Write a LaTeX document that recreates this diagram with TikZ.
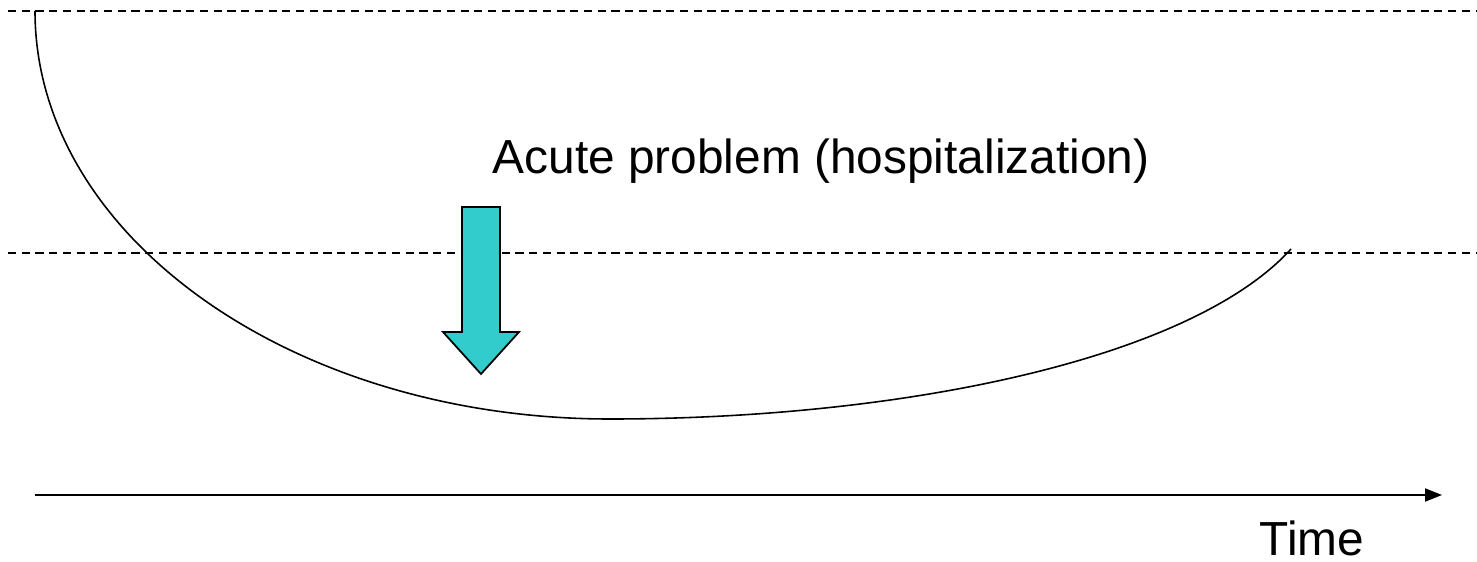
\documentclass[tikz,border=0pt]{standalone}
\usepackage{fontspec}
\setmainfont{Liberation Sans}
\usetikzlibrary{arrows.meta}
\begin{document}
\begin{tikzpicture}[x=0.01cm,y=-0.01cm,
  guide/.style={line width=0.45pt,dash pattern=on 2.3pt off 1.6pt},
  curveline/.style={line width=0.45pt},
  axisline/.style={line width=0.55pt,-{Triangle[length=0.17cm,width=0.13cm]}},
  blockarrow/.style={fill={rgb,255:red,51;green,204;blue,204},draw=black,line width=0.5pt,line join=miter},
  lbl/.style={inner sep=0pt,font=\fontsize{13.6}{16}\selectfont}]
\useasboundingbox (0,0) rectangle (1477,561);
% guide lines
\coordinate (t1) at (8,11);
\coordinate (t2) at (1477,11);
\coordinate (m1) at (8,253);
\coordinate (m2) at (1477,253);
\draw[guide] (t1) -- (t2);
\draw[guide] (m1) -- (m2);
% curve
\coordinate (cs) at (35,11);
\coordinate (cm) at (610,419);
\coordinate (ce) at (1291,249);
\draw[curveline] (cs) arc[start angle=180,end angle=270,x radius=575,y radius=-408]
  .. controls (900,419) and (1190,360) .. (ce);
% block arrow
\draw[blockarrow] (462,207) -- (500,207) -- (500,332) -- (519,332) -- (481,374) -- (443,332) -- (462,332) -- cycle;
% axis
\coordinate (a1) at (35,495);
\coordinate (a2) at (1442,495);
\draw[axisline] (a1) -- (a2);
% labels
\node[lbl,anchor=base west] (acute) at (492,174) {Acute problem (hospitalization)};
\node[lbl,anchor=base west] (time) at (1259,555) {Time};
\end{tikzpicture}
\end{document}
